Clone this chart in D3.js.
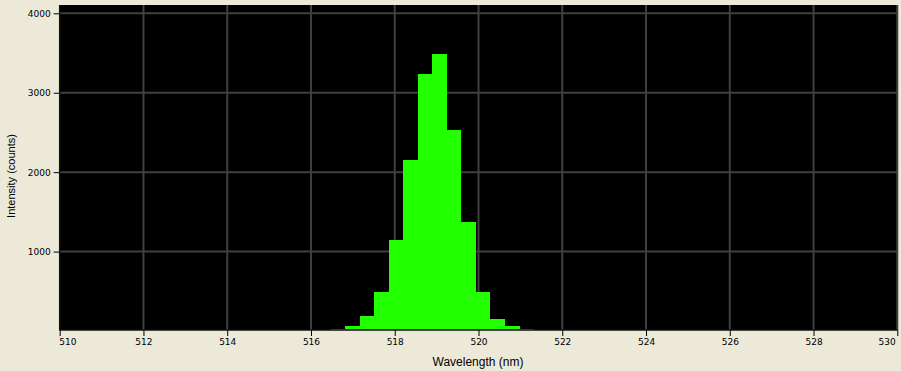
<!DOCTYPE html>
<html>
<head>
<meta charset="utf-8">
<script src="https://cdn.jsdelivr.net/npm/d3@7"></script>
<style>
  html, body { margin: 0; padding: 0; background: #ECE9D8; }
  svg { display: block; }
</style>
</head>
<body>
<svg id="chart" width="901" height="371"></svg>
<script>
// ---- data ----
const binEdges = [516.48, 516.82, 517.18, 517.51, 517.87, 518.20, 518.56, 518.90, 519.25, 519.59, 519.95, 520.28, 520.64, 520.98, 521.33];
const counts   = [29, 63, 193, 495, 1146, 2154, 3237, 3489, 2531, 1373, 487, 151, 63, 29];
const xTicks = [510, 512, 514, 516, 518, 520, 522, 524, 526, 528, 530];
const yTicks = [1000, 2000, 3000, 4000];
const xLabel = "Wavelength (nm)";
const yLabel = "Intensity (counts)";

const bins = counts.map((c, i) => ({ x0: binEdges[i], x1: binEdges[i + 1], c }));

// ---- layout ----
const pLeft = 59.7, pRight = 897.3, pTop = 5, pBottom = 330;

const svg = d3.select("#chart");

const x = d3.scaleLinear().domain([510, 530]).range([pLeft, pRight]);
const y = d3.scaleLinear().domain([0, 4000]).range([331, 13.3]);

// plot background
svg.append("rect")
  .attr("x", pLeft).attr("y", pTop)
  .attr("width", pRight - pLeft).attr("height", pBottom - pTop)
  .attr("fill", "#000");

// gridlines
const grid = svg.append("g").attr("stroke", "#404040").attr("stroke-width", 2);
grid.selectAll("line.v").data(xTicks.slice(1)).join("line").attr("class", "v")
  .attr("x1", d => x(d)).attr("x2", d => x(d))
  .attr("y1", pTop).attr("y2", pBottom);
grid.selectAll("line.h").data(yTicks).join("line").attr("class", "h")
  .attr("x1", pLeft).attr("x2", pRight)
  .attr("y1", d => y(d)).attr("y2", d => y(d));

// bars
svg.append("defs").append("clipPath").attr("id", "clip")
  .append("rect").attr("x", pLeft).attr("y", pTop)
  .attr("width", pRight - pLeft).attr("height", pBottom - pTop);

svg.append("g").attr("clip-path", "url(#clip)")
  .attr("shape-rendering", "crispEdges")
  .selectAll("rect").data(bins).join("rect")
  .attr("x", d => Math.round(x(d.x0)))
  .attr("width", d => Math.round(x(d.x1)) - Math.round(x(d.x0)))
  .attr("y", d => Math.round(y(d.c)))
  .attr("height", d => pBottom - Math.round(y(d.c)))
  .attr("fill", "#22FF00");

// axes
const xAxis = d3.axisBottom(x).tickValues(xTicks).tickSize(6).tickPadding(3).tickFormat(d3.format("d"));
const gx = svg.append("g").attr("transform", `translate(0,${pBottom})`).call(xAxis);
gx.select(".domain").remove();
gx.selectAll(".tick line").attr("stroke", "#000");
gx.selectAll(".tick text")
  .attr("fill", "#000")
  .style("font-family", "'DejaVu Sans', sans-serif")
  .style("font-size", "9px")
  .attr("text-anchor", (d, i) => i === 0 ? "start" : (i === xTicks.length - 1 ? "end" : "middle"))
  .attr("dx", (d, i) => i === 0 ? -1 : (i === xTicks.length - 1 ? -2 : 0));

const yAxis = d3.axisLeft(y).tickValues(yTicks).tickSize(6).tickPadding(3).tickFormat(d3.format("d"));
const gy = svg.append("g").attr("transform", `translate(${pLeft},0)`).call(yAxis);
gy.select(".domain").remove();
gy.selectAll(".tick line").attr("stroke", "#000");
gy.selectAll(".tick text")
  .attr("fill", "#000")
  .style("font-family", "'DejaVu Sans', sans-serif")
  .style("font-size", "9px");

// axis frame lines
svg.append("line")
  .attr("x1", pLeft).attr("x2", pLeft).attr("y1", pTop).attr("y2", pBottom + 0.5)
  .attr("stroke", "#111").attr("stroke-width", 1.5);
svg.append("line")
  .attr("x1", pLeft).attr("x2", pRight).attr("y1", pBottom).attr("y2", pBottom)
  .attr("stroke", "#111").attr("stroke-width", 1.5);

// axis titles
svg.append("text")
  .attr("x", 478).attr("y", 366)
  .attr("text-anchor", "middle")
  .style("font-family", "'Liberation Sans', Arial, sans-serif")
  .style("font-size", "12px")
  .attr("fill", "#000")
  .text(xLabel);

svg.append("text")
  .attr("transform", "translate(15,176) rotate(-90)")
  .attr("text-anchor", "middle")
  .style("font-family", "'Liberation Sans', Arial, sans-serif")
  .style("font-size", "11px")
  .attr("fill", "#000")
  .text(yLabel);
</script>
</body>
</html>
